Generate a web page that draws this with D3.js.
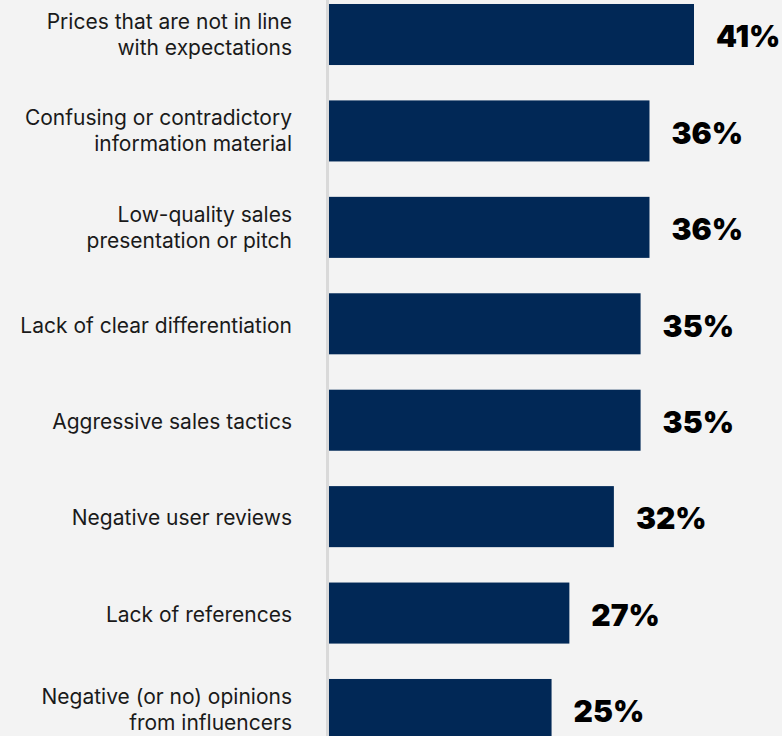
<!DOCTYPE html>
<html>
<head>
<meta charset="utf-8">
<script src="https://cdn.jsdelivr.net/npm/d3@7"></script>
<style>
  html, body { margin: 0; padding: 0; background: #f3f3f3; }
  svg { display: block; }
</style>
</head>
<body>
<svg id="chart" width="782" height="736"></svg>
<script>
// Reasons buyers are put off, share of respondents (%)
const categories = [
  "Prices that are not in line\nwith expectations",
  "Confusing or contradictory\ninformation material",
  "Low-quality sales\npresentation or pitch",
  "Lack of clear differentiation",
  "Aggressive sales tactics",
  "Negative user reviews",
  "Lack of references",
  "Negative (or no) opinions\nfrom influencers"
];
const values = [41, 36, 36, 35, 35, 32, 27, 25];
const valueLabels = ["41%", "36%", "36%", "35%", "35%", "32%", "27%", "25%"];

const W = 782, H = 736;
const axisX = 329;
const svg = d3.select("#chart");

svg.append("rect").attr("width", W).attr("height", H).attr("fill", "#f3f3f3");

const y = d3.scaleBand()
  .domain(d3.range(categories.length))
  .range([-13.7, 757.7])
  .paddingInner(0.367)
  .paddingOuter(0.1835);

const x = d3.scaleLinear().domain([0, 41]).range([axisX, 694]);

// bars
svg.append("g").selectAll("rect")
  .data(values)
  .join("rect")
  .attr("x", axisX)
  .attr("y", (d, i) => y(i))
  .attr("width", d => x(d) - axisX)
  .attr("height", y.bandwidth())
  .attr("fill", "#012856");

// vertical baseline
svg.append("line")
  .attr("x1", axisX - 1.5).attr("x2", axisX - 1.5)
  .attr("y1", 0).attr("y2", H)
  .attr("stroke", "#d9d9d9").attr("stroke-width", 3);

// category labels
const lineH = 26;
const cat = svg.append("g")
  .attr("font-family", "Inter, 'Open Sans', sans-serif")
  .attr("font-size", 21)
  .attr("fill", "#1a1a1a")
  .attr("text-anchor", "end");

categories.forEach((c, i) => {
  const lines = c.split("\n");
  const cy = y(i) + y.bandwidth() / 2 + (lines.length === 1 ? 1.5 : 0);
  const t = cat.append("text").attr("x", 292);
  lines.forEach((ln, j) => {
    t.append("tspan")
      .attr("x", 292)
      .attr("y", cy + (j - (lines.length - 1) / 2) * lineH)
      .attr("dy", "0.35em")
      .text(ln);
  });
});

// value labels
svg.append("g")
  .attr("font-family", "Inter, Lato, sans-serif")
  .attr("font-weight", 900)
  .attr("font-size", 30)
  .attr("fill", "#000")
  .selectAll("text")
  .data(values)
  .join("text")
  .attr("x", d => x(d) + 22)
  .attr("y", (d, i) => y(i) + y.bandwidth() / 2 + 2)
  .attr("dy", "0.36em")
  .text((d, i) => valueLabels[i]);
</script>
</body>
</html>
